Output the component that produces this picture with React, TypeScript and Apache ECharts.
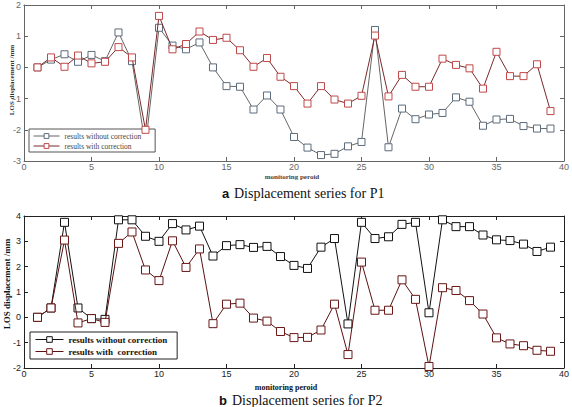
import React, { useEffect, useRef } from "react";
import * as echarts from "echarts";

const periods = Array.from({ length: 39 }, (_, i) => i + 1);

const p1Without = [
  0, 0.25, 0.42, 0.18, 0.4, 0.2, 1.12, 0.2, -2.5, 1.27,
  0.7, 0.58, 0.8, 0.0, -0.6, -0.62, -1.35, -0.9, -1.35, -2.23,
  -2.57, -2.81, -2.77, -2.53, -2.39, 1.2, -2.56, -1.32, -1.66, -1.51,
  -1.46, -0.96, -1.1, -1.87, -1.67, -1.65, -1.88, -1.96, -1.96,
];
const p1With = [
  0, 0.32, 0.02, 0.38, 0.13, 0.18, 0.65, 0.32, -2.0, 1.65,
  0.58, 0.75, 1.15, 0.88, 0.95, 0.55, 0.02, 0.3, -0.3, -0.6,
  -1.16, -0.6, -1.03, -1.16, -0.91, 1.02, -0.93, -0.24, -0.62, -0.62,
  0.28, 0.08, -0.03, -0.68, 0.5, -0.28, -0.28, 0.1, -1.4,
];
const p2Without = [
  0, 0.37, 3.75, 0.37, -0.05, -0.08, 3.85, 3.85, 3.2, 3.0,
  3.7, 3.45, 3.6, 2.42, 2.83, 2.87, 2.76, 2.8, 2.4, 2.05,
  1.93, 2.77, 3.11, -0.26, 3.75, 3.11, 3.18, 3.67, 3.75, 0.18,
  3.85, 3.58, 3.58, 3.25, 3.06, 3.03, 2.89, 2.6, 2.77,
];
const p2With = [
  0, 0.37, 3.05, -0.22, -0.05, -0.2, 2.92, 3.37, 1.87, 1.45,
  3.02, 1.97, 2.7, -0.25, 0.52, 0.56, -0.03, -0.15, -0.56, -0.8,
  -0.79, -0.5, 0.52, -1.47, 2.18, 0.28, 0.28, 1.48, 0.71, -1.94,
  1.17, 1.06, 0.66, 0.13, -0.81, -1.05, -1.12, -1.3, -1.34,
];

const nameWithout = "results without correction";
const nameWith1 = "results with correction";
const nameWith2 = "results with  correction";
const xAxisName = "monitoring peroid";
const yAxisName = "LOS displacement /mm";
const caption1 = "Displacement series for P1";
const caption2 = "Displacement series for P2";

const toPairs = (vals: number[]) => periods.map((p, i) => [p, vals[i]]);

export default function App() {
  const ref = useRef<HTMLDivElement>(null);
  useEffect(() => {
    if (!ref.current) return;
    const chart = echarts.init(ref.current, undefined, { renderer: "svg" });
    const tickFont = { fontFamily: "Liberation Sans, Arial, sans-serif", fontSize: 9 };
    const g1 = { left: 24, top: 5, width: 543, height: 156 };
    const g2 = { left: 24, top: 216, width: 543, height: 152 };
    const c1 = "#666";
    const c2 = "#222";
    const mkX = (gi: number, pos: "bottom" | "top", col: string, labels: boolean) => ({
      type: "value",
      gridIndex: gi,
      position: pos,
      min: 0,
      max: 40,
      interval: 5,
      axisLine: { show: true, onZero: false, lineStyle: { color: col, width: 1 } },
      axisTick: { show: true, inside: true, length: 4, lineStyle: { color: col } },
      axisLabel: { show: labels, color: gi === 0 ? "#666" : "#222", margin: 1, ...tickFont },
      splitLine: { show: false },
    });
    const mkY = (gi: number, pos: "left" | "right", col: string, labels: boolean, min: number, max: number) => ({
      type: "value",
      gridIndex: gi,
      position: pos,
      min,
      max,
      interval: 1,
      axisLine: { show: true, onZero: false, lineStyle: { color: col, width: 1 } },
      axisTick: { show: true, inside: true, length: 4, lineStyle: { color: col } },
      axisLabel: { show: labels, color: gi === 0 ? "#666" : "#222", margin: 3, ...tickFont },
      splitLine: { show: false },
    });
    const serif = "Liberation Serif, Times New Roman, serif";
    chart.setOption({
      animation: false,
      backgroundColor: "#fff",
      grid: [
        { ...g1, show: false },
        { ...g2, show: false },
      ],
      xAxis: [
        mkX(0, "bottom", c1, true),
        mkX(0, "top", c1, false),
        mkX(1, "bottom", c2, true),
        mkX(1, "top", c2, false),
      ],
      yAxis: [
        mkY(0, "left", c1, true, -3, 2),
        mkY(0, "right", c1, false, -3, 2),
        mkY(1, "left", c2, true, -2, 4),
        mkY(1, "right", c2, false, -2, 4),
      ],
      legend: [
        {
          left: 29,
          top: 129,
          orient: "vertical",
          backgroundColor: "#fff",
          borderColor: "#555",
          borderWidth: 1,
          borderRadius: 0,
          padding: [3, 14, 2, 4],
          itemGap: 2,
          itemWidth: 26,
          itemHeight: 6,
          textStyle: { fontFamily: serif, fontSize: 7.5, color: "#444" },
          data: [
            { name: nameWithout, itemStyle: { color: "#fff", borderColor: "#5b6b7c", borderWidth: 1 }, lineStyle: { color: "#666", width: 1 }, textStyle: { color: "#444" } },
            { name: nameWith1, itemStyle: { color: "#fff", borderColor: "#c04848", borderWidth: 1 }, lineStyle: { color: "#7a2a2a", width: 1 }, textStyle: { color: "#444" } },
          ],
        },
        {
          left: 30,
          top: 332,
          orient: "vertical",
          backgroundColor: "#fff",
          borderColor: "#222",
          borderWidth: 1,
          borderRadius: 0,
          padding: [3, 10, 3, 5],
          itemGap: 3,
          itemWidth: 28,
          itemHeight: 7,
          textStyle: { fontFamily: serif, fontSize: 9, fontWeight: "bold", color: "#111" },
          data: [
            { name: nameWithout, itemStyle: { color: "#fff", borderColor: "#111", borderWidth: 1 }, lineStyle: { color: "#111", width: 1 }, textStyle: { color: "#111" } },
            { name: nameWith2, itemStyle: { color: "#fff", borderColor: "#6a1616", borderWidth: 1 }, lineStyle: { color: "#5a1212", width: 1 }, textStyle: { color: "#111" } },
          ],
        },
      ],
      series: [
        {
          name: nameWithout,
          type: "line",
          xAxisIndex: 0,
          yAxisIndex: 0,
          data: toPairs(p1Without),
          symbol: "rect",
          symbolSize: 7,
          lineStyle: { color: "#666", width: 1 },
          itemStyle: { color: "#fff", borderColor: "#5b6b7c", borderWidth: 1 },
          z: 3,
        },
        {
          name: nameWith1,
          type: "line",
          xAxisIndex: 0,
          yAxisIndex: 0,
          data: toPairs(p1With),
          symbol: "rect",
          symbolSize: 7,
          lineStyle: { color: "#7a2a2a", width: 1 },
          itemStyle: { color: "#fff", borderColor: "#c04848", borderWidth: 1 },
          z: 4,
        },
        {
          name: nameWithout,
          type: "line",
          xAxisIndex: 2,
          yAxisIndex: 2,
          data: toPairs(p2Without),
          symbol: "rect",
          symbolSize: 8,
          lineStyle: { color: "#111", width: 1 },
          itemStyle: { color: "#fff", borderColor: "#111", borderWidth: 1 },
          z: 3,
        },
        {
          name: nameWith2,
          type: "line",
          xAxisIndex: 2,
          yAxisIndex: 2,
          data: toPairs(p2With),
          symbol: "rect",
          symbolSize: 8,
          lineStyle: { color: "#5a1212", width: 1 },
          itemStyle: { color: "#fff", borderColor: "#6a1616", borderWidth: 1 },
          z: 4,
        },
      ],
      graphic: [
        {
          type: "text",
          x: 12,
          y: 80,
          rotation: Math.PI / 2,
          style: { text: yAxisName, fontFamily: serif, fontSize: 7, fontWeight: "bold", fill: "#333", align: "center", verticalAlign: "middle" },
        },
        {
          type: "text",
          x: 7,
          y: 284,
          rotation: Math.PI / 2,
          style: { text: yAxisName, fontFamily: serif, fontSize: 9, fontWeight: "bold", fill: "#111", align: "center", verticalAlign: "middle" },
        },
        {
          type: "text",
          x: 292,
          y: 177,
          style: { text: xAxisName, fontFamily: serif, fontSize: 7, fontWeight: "bold", fill: "#444", align: "center", verticalAlign: "middle" },
        },
        {
          type: "text",
          x: 286,
          y: 387,
          style: { text: xAxisName, fontFamily: serif, fontSize: 8, fontWeight: "bold", fill: "#111", align: "center", verticalAlign: "middle" },
        },
        {
          type: "text",
          x: 222,
          y: 193,
          style: { text: "a", fontFamily: "Liberation Sans, Arial, sans-serif", fontSize: 13, fontWeight: "bold", fill: "#111", verticalAlign: "middle" },
        },
        {
          type: "text",
          x: 234,
          y: 193,
          style: { text: caption1, fontFamily: serif, fontSize: 14, fill: "#111", verticalAlign: "middle" },
        },
        {
          type: "text",
          x: 219,
          y: 400,
          style: { text: "b", fontFamily: "Liberation Sans, Arial, sans-serif", fontSize: 13, fontWeight: "bold", fill: "#111", verticalAlign: "middle" },
        },
        {
          type: "text",
          x: 232,
          y: 400,
          style: { text: caption2, fontFamily: serif, fontSize: 14, fill: "#111", verticalAlign: "middle" },
        },
      ],
    });
    return () => chart.dispose();
  }, []);
  return (
    <div
      ref={ref}
      style={{ position: "absolute", left: 0, top: 0, width: 572, height: 407 }}
    />
  );
}
